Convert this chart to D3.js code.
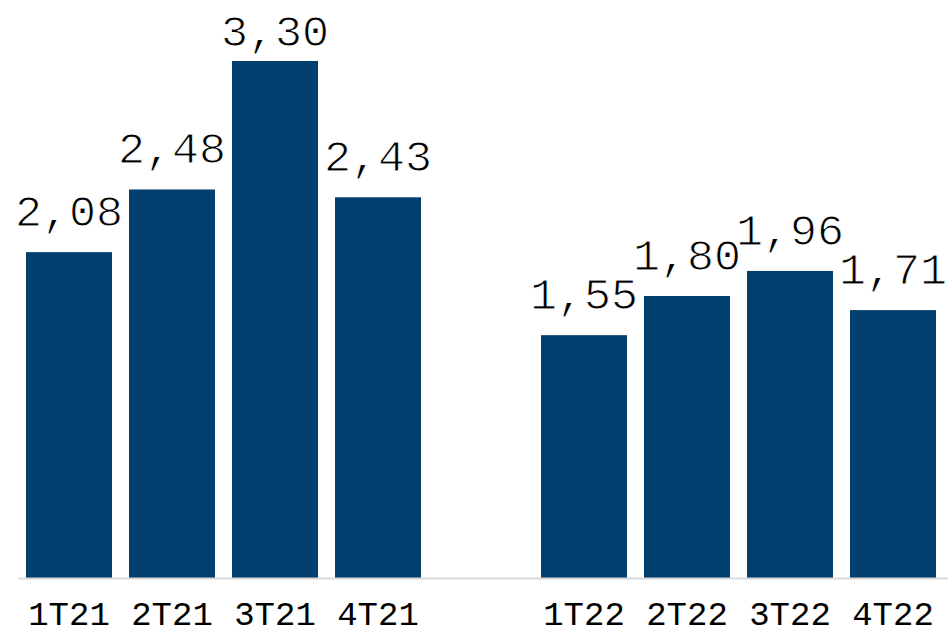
<!DOCTYPE html>
<html>
<head>
<meta charset="utf-8">
<script src="https://cdn.jsdelivr.net/npm/d3@7"></script>
<style>
  body { margin: 0; background: #fff; }
</style>
</head>
<body>
<script>
// quarters, with an empty slot between the two years
var categories = ["1T21", "2T21", "3T21", "4T21", "1T22", "2T22", "3T22", "4T22"]
var values = [2.08, 2.48, 3.30, 2.43, 1.55, 1.80, 1.96, 1.71]
var valueLabels = ["2,08", "2,48", "3,30", "2,43", "1,55", "1,80", "1,96", "1,71"]
var slots = ["1T21", "2T21", "3T21", "4T21", "gap", "1T22", "2T22", "3T22", "4T22"]

var width = 948, height = 634
var baseline = 578

var svg = d3.select("body").append("svg")
    .attr("width", width)
    .attr("height", height)

var x = d3.scaleBand().domain(slots).range([17.5, 944.5])
    .paddingInner(0.165).paddingOuter(0.0825)
var y = d3.scaleLinear().domain([0, 3.3]).range([baseline, 61])

var data = categories.map(function (c, i) {
    return {cat: c, value: values[i], label: valueLabels[i]}
})

svg.selectAll("rect.bar").data(data).enter()
    .append("rect")
    .attr("class", "bar")
    .attr("x", function (d) { return x(d.cat) })
    .attr("y", function (d) { return y(d.value) })
    .attr("width", x.bandwidth())
    .attr("height", function (d) { return baseline - y(d.value) })
    .attr("fill", "#003f6e")

// axis line
var xAxis = d3.axisBottom(x).tickSize(0).tickFormat(function (d) { return d === "gap" ? "" : d })
var axisG = svg.append("g").attr("transform", "translate(0," + baseline + ")").call(xAxis)
axisG.select(".domain").attr("d", "M18,0.5H948").attr("stroke", "#d9d9d9").attr("stroke-width", 2)
axisG.selectAll("text")
    .attr("y", 47)
    .attr("dy", 0)
    .attr("font-family", "'Courier New', 'Liberation Mono', monospace")
    .attr("font-size", 34)
    .attr("fill", "#000")

// value labels, the tallest one is pushed down to stay inside the picture
svg.selectAll("text.val").data(data).enter()
    .append("text")
    .attr("class", "val")
    .attr("x", function (d) { return x(d.cat) + x.bandwidth() / 2 })
    .attr("y", function (d) { return Math.max(46, y(d.value) - 26) })
    .attr("text-anchor", "middle")
    .attr("font-family", "'Liberation Mono', monospace")
    .attr("font-size", 45)
    .attr("fill", "#000")
    .attr("stroke", "#fff")
    .attr("stroke-width", 1)
    .text(function (d) { return d.label })
</script>
</body>
</html>
